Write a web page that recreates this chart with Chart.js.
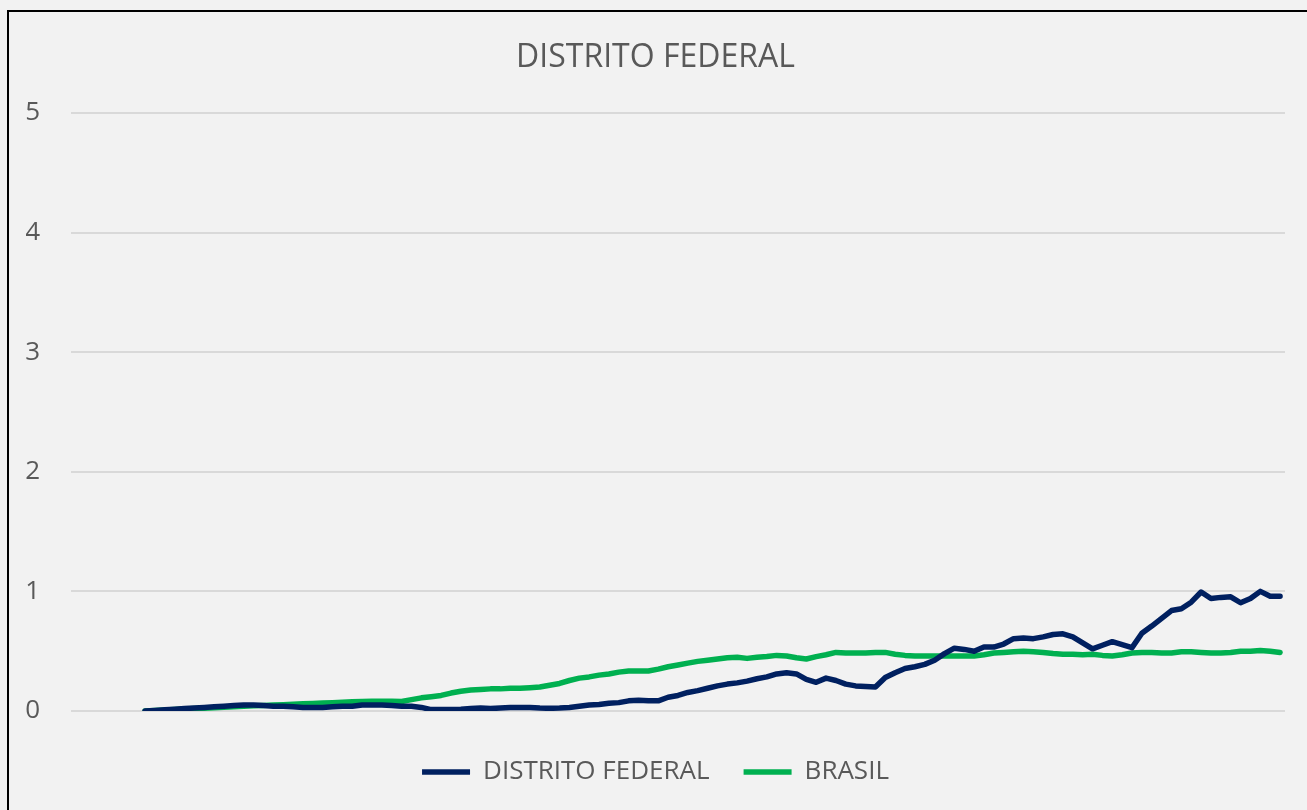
<!DOCTYPE html>
<html lang="pt-BR">
<head>
<meta charset="utf-8">
<title>DISTRITO FEDERAL</title>
<script src="https://cdn.jsdelivr.net/npm/chart.js@4.4.1/dist/chart.umd.min.js"></script>
<style>
    html, body {
        margin: 0;
        padding: 0;
        width: 1307px;
        height: 810px;
        overflow: hidden;
        background: #f2f2f2;
    }
    /* cadre du graphique, coupé à droite et en bas comme l'original */
    #frame {
        position: absolute;
        left: 7px;
        top: 10px;
        width: 1400px;
        height: 900px;
        border-left: 2px solid #000;
        border-top: 2px solid #000;
    }
    #chart {
        position: absolute;
        left: 0;
        top: 0;
    }
</style>
</head>
<body>
<div id="frame"></div>
<canvas id="chart" width="1307" height="810"></canvas>
<script>
// Séries
const seriesNames = ['DISTRITO FEDERAL', 'BRASIL'];
const leadingBlanks = 7;   // catégories vides avant le début des séries

const distritoFederal = [
    0.000, 0.005, 0.010, 0.015, 0.020, 0.025, 0.030, 0.035, 0.040, 0.045,
    0.050, 0.050, 0.045, 0.040, 0.040, 0.035, 0.030, 0.030, 0.030, 0.035,
    0.040, 0.040, 0.050, 0.050, 0.050, 0.045, 0.040, 0.040, 0.030, 0.012,
    0.012, 0.012, 0.015, 0.020, 0.025, 0.020, 0.025, 0.030, 0.030, 0.030,
    0.025, 0.022, 0.025, 0.030, 0.040, 0.050, 0.055, 0.065, 0.070, 0.085,
    0.090, 0.085, 0.085, 0.115, 0.130, 0.155, 0.170, 0.190, 0.210, 0.225,
    0.235, 0.250, 0.270, 0.285, 0.310, 0.320, 0.310, 0.265, 0.240, 0.275,
    0.255, 0.225, 0.210, 0.205, 0.200, 0.280, 0.320, 0.355, 0.370, 0.390,
    0.425, 0.480, 0.525, 0.515, 0.500, 0.535, 0.535, 0.560, 0.605, 0.610,
    0.605, 0.620, 0.640, 0.645, 0.620, 0.570, 0.520, 0.550, 0.580, 0.555,
    0.530, 0.650, 0.710, 0.775, 0.840, 0.855, 0.910, 0.995, 0.940, 0.950,
    0.955, 0.905, 0.940, 1.000, 0.960, 0.960
];

const brasil = [
    0.000, 0.004, 0.008, 0.012, 0.016, 0.020, 0.024, 0.028, 0.032, 0.036,
    0.040, 0.043, 0.046, 0.050, 0.053, 0.056, 0.060, 0.063, 0.066, 0.070,
    0.073, 0.077, 0.080, 0.082, 0.082, 0.082, 0.080, 0.095, 0.110, 0.120,
    0.130, 0.150, 0.165, 0.175, 0.180, 0.185, 0.185, 0.190, 0.190, 0.195,
    0.200, 0.215, 0.230, 0.255, 0.275, 0.285, 0.300, 0.310, 0.325, 0.335,
    0.335, 0.335, 0.350, 0.370, 0.385, 0.400, 0.415, 0.425, 0.435, 0.445,
    0.450, 0.440, 0.450, 0.455, 0.465, 0.460, 0.445, 0.435, 0.455, 0.470,
    0.490, 0.485, 0.485, 0.485, 0.490, 0.490, 0.475, 0.465, 0.460, 0.460,
    0.460, 0.460, 0.460, 0.460, 0.460, 0.470, 0.485, 0.490, 0.495, 0.500,
    0.495, 0.490, 0.480, 0.475, 0.475, 0.470, 0.475, 0.465, 0.460, 0.470,
    0.485, 0.490, 0.490, 0.485, 0.485, 0.495, 0.495, 0.490, 0.485, 0.485,
    0.490, 0.500, 0.500, 0.505, 0.500, 0.490
];

const yTicks = [0, 1, 2, 3, 4, 5];

// Catégories (l'axe des abscisses n'affiche pas d'étiquettes)
const categories = Array.from({length: leadingBlanks + distritoFederal.length}, (_, i) => String(i + 1));
const blanks = new Array(leadingBlanks).fill(null);

const textColor = '#595959';
const fontFamily = '"Open Sans", "Noto Sans", sans-serif';

Chart.defaults.color = textColor;
Chart.defaults.font.family = fontFamily;

document.addEventListener('DOMContentLoaded', function() {
    const ctx = document.getElementById('chart').getContext('2d');
    new Chart(ctx, {
        type: 'line',
        data: {
            labels: categories,
            datasets: [
                {
                    label: seriesNames[0],
                    data: blanks.concat(distritoFederal),
                    borderColor: '#002060',
                    backgroundColor: '#002060',
                    borderWidth: 5.5,
                    borderCapStyle: 'round',
                    borderJoinStyle: 'round',
                    pointRadius: 0,
                    tension: 0
                },
                {
                    label: seriesNames[1],
                    data: blanks.concat(brasil),
                    borderColor: '#00b050',
                    backgroundColor: '#00b050',
                    borderWidth: 5.5,
                    borderCapStyle: 'round',
                    borderJoinStyle: 'round',
                    pointRadius: 0,
                    tension: 0
                }
            ]
        },
        options: {
            responsive: false,
            animation: false,
            layout: {
                padding: { top: 20, left: 26, right: 22, bottom: 15 }
            },
            plugins: {
                title: {
                    display: true,
                    text: 'DISTRITO FEDERAL',
                    color: textColor,
                    font: { size: 32, weight: 'normal' },
                    padding: { top: 19, bottom: 35.6 }
                },
                legend: {
                    display: true,
                    position: 'bottom',
                    // titre vide : sert seulement à descendre la légende
                    title: {
                        display: true,
                        text: '',
                        font: { size: 0 },
                        padding: { top: 14, bottom: 0 }
                    },
                    labels: {
                        usePointStyle: true,
                        pointStyle: 'line',
                        pointStyleWidth: 48,
                        padding: 34,
                        color: textColor,
                        font: { size: 26 }
                    }
                },
                tooltip: { enabled: false }
            },
            scales: {
                x: {
                    type: 'category',
                    offset: true,
                    display: false
                },
                y: {
                    min: 0,
                    max: 5,
                    afterFit: function(scale) { scale.width = 45; },
                    afterBuildTicks: function(scale) {
                        scale.ticks = yTicks.map(v => ({ value: v }));
                    },
                    border: { display: false },
                    grid: {
                        color: '#d9d9d9',
                        lineWidth: 2,
                        drawTicks: false
                    },
                    ticks: {
                        color: textColor,
                        padding: 31,
                        font: { size: 26 }
                    }
                }
            }
        }
    });
});
</script>
</body>
</html>
